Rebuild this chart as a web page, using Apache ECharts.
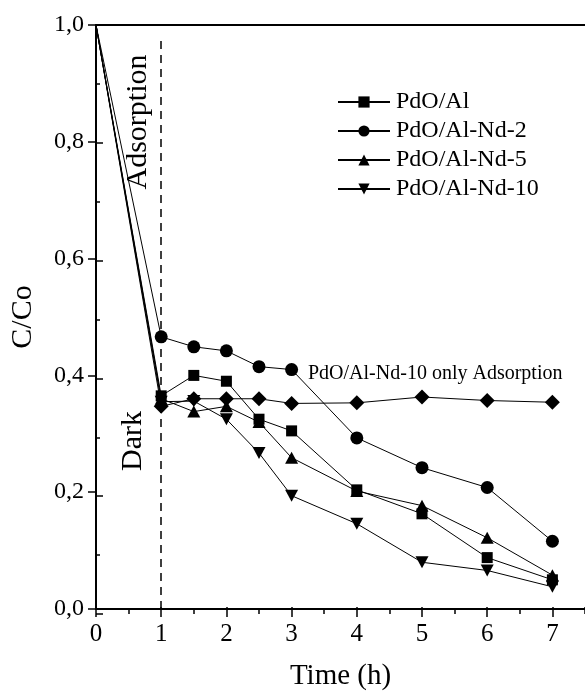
<!DOCTYPE html>
<html>
<head>
<meta charset="utf-8">
<script src="https://cdn.jsdelivr.net/npm/echarts@6/dist/echarts.min.js"></script>
<style>
  html, body { margin: 0; padding: 0; background: #fff; }
  #chart { width: 585px; height: 696px; }
</style>
</head>
<body>
<div id="chart"></div>
<script>
// time points (h)
const times = [0, 1, 1.5, 2, 2.5, 3, 4, 5, 6, 7];
const timeTicks = [0, 1, 2, 3, 4, 5, 6, 7];
// C/Co values
const pdoAl = [1.0, 0.365, 0.40, 0.39, 0.325, 0.305, 0.204, 0.163, 0.088, 0.05];
const pdoAlNd2 = [1.0, 0.466, 0.449, 0.442, 0.415, 0.41, 0.293, 0.242, 0.208, 0.116];
const pdoAlNd5 = [1.0, 0.36, 0.338, 0.347, 0.32, 0.259, 0.202, 0.177, 0.122, 0.058];
const pdoAlNd10 = [1.0, 0.355, 0.356, 0.325, 0.267, 0.194, 0.146, 0.08, 0.066, 0.038];
const pdoAlNd10Ads = [1.0, 0.347, 0.36, 0.36, 0.36, 0.352, 0.353, 0.363, 0.357, 0.354];
const darkEnd = 1;

const font = "Liberation Serif";
const downTriangle = "path://M0,0 L10,0 L5,9 Z";

function pairs(vals) {
  // first point sits on the axis corner, no marker drawn there
  return vals.map((v, i) => i === 0 ? { value: [times[i], v], symbol: "none" } : [times[i], v]);
}

function lineSeries(name, vals, symbol, size) {
  return {
    name: name,
    type: "line",
    data: pairs(vals),
    symbol: symbol,
    symbolSize: size,
    showAllSymbol: true,
    clip: false,
    lineStyle: { color: "#000", width: 1 },
    itemStyle: { color: "#000" },
    emphasis: { disabled: true }
  };
}

const gridRect = { left: 96, right: -1, top: 25, bottom: 82 };

const chart = echarts.init(document.getElementById("chart"));
chart.setOption({
  backgroundColor: "#fff",
  animation: false,
  textStyle: { fontFamily: font, color: "#000" },
  grid: [
    Object.assign({}, gridRect),
    Object.assign({}, gridRect)
  ],
  xAxis: [
    {
      gridIndex: 0,
      type: "value",
      min: 0,
      max: 7.5,
      interval: 1,
      position: "bottom",
      name: "Time (h)",
      nameLocation: "middle",
      nameGap: 53,
      nameTextStyle: { fontFamily: font, fontSize: 29, color: "#000" },
      axisLine: { lineStyle: { color: "#000", width: 2 } },
      axisTick: { inside: false, length: 8, customValues: timeTicks, lineStyle: { color: "#000", width: 1.5 } },
      axisLabel: {
        margin: 13,
        fontFamily: font,
        fontSize: 25,
        color: "#000",
        customValues: timeTicks,
        formatter: v => Number.isInteger(v) ? String(v) : ""
      },
      splitLine: { show: false }
    },
    {
      gridIndex: 1,
      type: "value",
      min: 0,
      max: 7.5,
      interval: 1,
      position: "bottom",
      axisLine: { show: false },
      axisTick: { inside: true, length: 7, lineStyle: { color: "#000", width: 1.5 } },
      minorTick: { show: true, splitNumber: 2, length: 4, lineStyle: { color: "#000", width: 1.5 } },
      axisLabel: { show: false },
      splitLine: { show: false }
    },
    {
      gridIndex: 1,
      type: "value",
      min: 0,
      max: 7.5,
      position: "top",
      axisLine: { lineStyle: { color: "#000", width: 2 } },
      axisTick: { show: false },
      axisLabel: { show: false },
      splitLine: { show: false }
    }
  ],
  yAxis: [
    {
      gridIndex: 0,
      type: "value",
      min: 0,
      max: 1,
      interval: 0.2,
      name: "C/Co",
      nameLocation: "middle",
      nameGap: 58,
      nameTextStyle: { fontFamily: font, fontSize: 30, color: "#000" },
      axisLine: { lineStyle: { color: "#000", width: 2 } },
      axisTick: { inside: false, length: 8, lineStyle: { color: "#000", width: 1.5 } },
      axisLabel: {
        margin: 12,
        fontFamily: font,
        fontSize: 24,
        color: "#000",
        formatter: v => v.toFixed(1).replace(".", ",")
      },
      splitLine: { show: false }
    },
    {
      gridIndex: 1,
      type: "value",
      min: 0,
      max: 1,
      interval: 0.2,
      position: "left",
      axisLine: { show: false },
      axisTick: { inside: true, length: 7, lineStyle: { color: "#000", width: 1.5 } },
      minorTick: { show: true, splitNumber: 2, length: 4, lineStyle: { color: "#000", width: 1.5 } },
      axisLabel: { show: false },
      splitLine: { show: false }
    }
  ],
  legend: {
    orient: "vertical",
    left: 332,
    top: 85,
    itemWidth: 52,
    itemHeight: 14,
    itemGap: 5,
    data: ["PdO/Al", "PdO/Al-Nd-2", "PdO/Al-Nd-5", "PdO/Al-Nd-10"],
    textStyle: { fontFamily: font, fontSize: 24, color: "#000", lineHeight: 24, padding: [0, 0, 0, 1] },
    selectedMode: false
  },
  series: [
    lineSeries("PdO/Al-Nd-10 only Adsorption", pdoAlNd10Ads, "diamond", 15),
    lineSeries("PdO/Al-Nd-10", pdoAlNd10, downTriangle, [13, 12]),
    lineSeries("PdO/Al-Nd-5", pdoAlNd5, "triangle", [13, 12]),
    lineSeries("PdO/Al-Nd-2", pdoAlNd2, "circle", 13),
    Object.assign(lineSeries("PdO/Al", pdoAl, "rect", 11), {
      markLine: {
        silent: true,
        symbol: "none",
        label: { show: false },
        lineStyle: { color: "#000", type: [8, 6], width: 1.5 },
        data: [[{ coord: [darkEnd, 0] }, { coord: [darkEnd, 0.975] }]]
      }
    })
  ],
  graphic: [
    {
      type: "text",
      x: 138,
      y: 122,
      rotation: Math.PI / 2,
      style: {
        text: "Adsorption",
        font: "30px " + font,
        fill: "#000",
        textAlign: "center",
        textVerticalAlign: "middle",
        align: "center",
        verticalAlign: "middle"
      }
    },
    {
      type: "text",
      x: 133,
      y: 441,
      rotation: Math.PI / 2,
      style: {
        text: "Dark",
        font: "30px " + font,
        fill: "#000",
        textAlign: "center",
        textVerticalAlign: "middle",
        align: "center",
        verticalAlign: "middle"
      }
    },
    {
      type: "text",
      x: 308,
      y: 374,
      style: {
        text: "PdO/Al-Nd-10 only Adsorption",
        font: "20px " + font,
        fill: "#000",
        textAlign: "left",
        textVerticalAlign: "middle",
        align: "left",
        verticalAlign: "middle"
      }
    }
  ]
});
</script>
</body>
</html>
